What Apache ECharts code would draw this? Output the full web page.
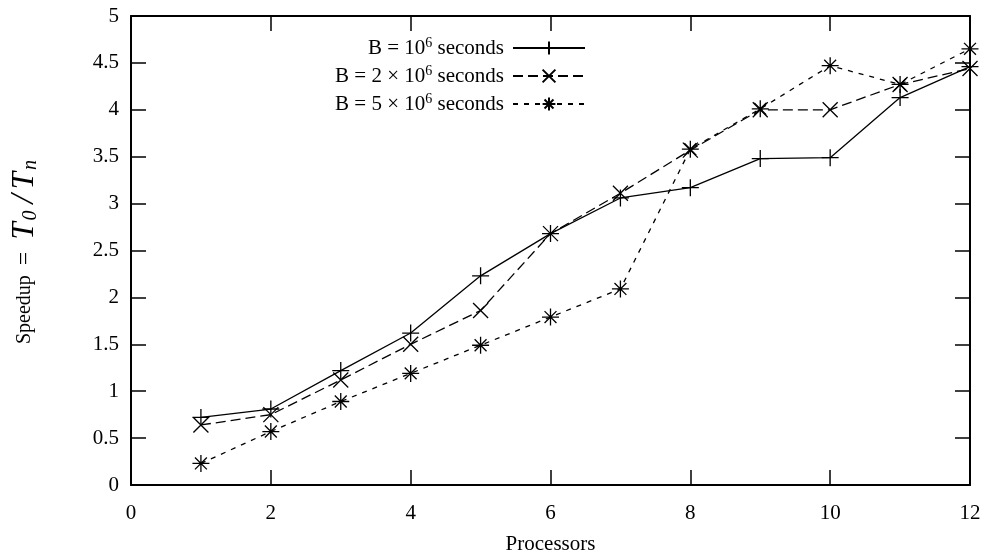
<!DOCTYPE html>
<html>
<head>
<meta charset="utf-8">
<script src="https://cdn.jsdelivr.net/npm/echarts@6/dist/echarts.min.js"></script>
<style>html,body{margin:0;padding:0;background:#fff}#c{width:986px;height:554px}</style>
</head>
<body>
<div id="c"></div>
<script>
const processors = [1, 2, 3, 4, 5, 6, 7, 8, 9, 10, 11, 12];
const speedupB1 = [0.72, 0.81, 1.22, 1.62, 2.23, 2.68, 3.06, 3.17, 3.48, 3.49, 4.13, 4.46];
const speedupB2 = [0.64, 0.75, 1.12, 1.50, 1.86, 2.68, 3.11, 3.57, 4.00, 4.00, 4.27, 4.44];
const speedupB5 = [0.23, 0.57, 0.89, 1.19, 1.49, 1.79, 2.09, 3.58, 4.01, 4.47, 4.27, 4.65];
const seriesNames = ['B1', 'B2', 'B5'];
const legendLabels = [
  '{t|B = 10}{sup|6}{t| seconds}',
  '{t|B = 2 × 10}{sup|6}{t| seconds}',
  '{t|B = 5 × 10}{sup|6}{t| seconds}'
];
const xTicks = { min: 0, max: 12, interval: 2 };
const yTicks = { min: 0, max: 5, interval: 0.5 };

const FONT = '"Liberation Serif", "DejaVu Serif", serif';
const plusPath = 'path://M0,5L10,5M5,0L5,10';
const crossPath = 'path://M0,0L10,10M10,0L0,10';
const starPath = 'path://M0,5L10,5M5,0L5,10M1.5,1.5L8.5,8.5M8.5,1.5L1.5,8.5';

const richLegend = {
  t: { fontFamily: FONT, fontSize: 21, color: '#000' },
  sup: { fontFamily: FONT, fontSize: 14, color: '#000', verticalAlign: 'top', padding: [0, 0, 10, 0] }
};

function mkLegend(i, top) {
  return {
    data: [seriesNames[i]],
    right: 400,
    top: top,
    align: 'right',
    itemWidth: 72,
    itemHeight: 16,
    itemGap: 0,
    padding: 0,
    selectedMode: false,
    formatter: function () { return legendLabels[i]; },
    textStyle: { rich: richLegend, fontFamily: FONT, fontSize: 21, color: '#000', padding: [0, 4, 0, 0] }
  };
}

const chart = echarts.init(document.getElementById('c'), null, { renderer: 'canvas' });
const axisLabelStyle = { fontFamily: FONT, fontSize: 21, color: '#000' };
const tickStyle = { show: true, inside: true, length: 15, lineStyle: { color: '#000', width: 1.5 } };
const lineStyleAxis = { show: true, onZero: false, lineStyle: { color: '#000', width: 2 } };

chart.setOption({
  animation: false,
  backgroundColor: '#fff',
  grid: { left: 131, right: 16, top: 16, bottom: 69, show: false, containLabel: false, outerBoundsMode: 'none' },
  legend: [mkLegend(0, 36), mkLegend(1, 64), mkLegend(2, 92)],
  xAxis: [
    {
      type: 'value', min: xTicks.min, max: xTicks.max, interval: xTicks.interval,
      name: 'Processors', nameLocation: 'middle', nameGap: 49,
      nameTextStyle: { fontFamily: FONT, fontSize: 21, color: '#000' },
      axisLine: lineStyleAxis,
      axisTick: tickStyle,
      axisLabel: Object.assign({ margin: 18 }, axisLabelStyle),
      splitLine: { show: false }
    },
    {
      type: 'value', position: 'top', min: xTicks.min, max: xTicks.max, interval: xTicks.interval,
      axisLine: lineStyleAxis,
      axisTick: tickStyle, axisLabel: { show: false }, splitLine: { show: false }
    }
  ],
  yAxis: [
    {
      type: 'value', min: yTicks.min, max: yTicks.max, interval: yTicks.interval,
      name: '{n|Speedup}{e|=}{i|T}{s|0}{sl|/}{i|T}{s|n}', nameLocation: 'middle', nameGap: 90,
      nameTextStyle: {
        fontFamily: FONT, fontSize: 20, color: '#000',
        rich: {
          n: { fontFamily: FONT, fontSize: 20, color: '#000' },
          e: { fontFamily: FONT, fontSize: 24, color: '#000', padding: [0, 12, 0, 10] },
          i: { fontFamily: FONT, fontSize: 31, fontStyle: 'italic', color: '#000', padding: [0, 1, 0, 0] },
          sl: { fontFamily: FONT, fontSize: 33, fontStyle: 'italic', color: '#000', padding: [0, 5, 0, 4] },
          s: { fontFamily: FONT, fontSize: 20, fontStyle: 'italic', color: '#000', verticalAlign: 'bottom', padding: [12, 3, 0, 1] }
        }
      },
      axisLine: lineStyleAxis,
      axisTick: tickStyle,
      axisLabel: Object.assign({ margin: 12 }, axisLabelStyle),
      splitLine: { show: false }
    },
    {
      type: 'value', position: 'right', min: yTicks.min, max: yTicks.max, interval: yTicks.interval,
      axisLine: lineStyleAxis,
      axisTick: tickStyle, axisLabel: { show: false }, splitLine: { show: false }
    }
  ],
  series: [
    {
      name: seriesNames[0], type: 'line', clip: false,
      data: processors.map((p, k) => [p, speedupB1[k]]),
      symbol: plusPath, symbolSize: 17,
      itemStyle: { color: '#000', borderColor: '#000', borderWidth: 1.3 },
      lineStyle: { color: '#000', width: 1.3, type: 'solid' }
    },
    {
      name: seriesNames[1], type: 'line', clip: false,
      data: processors.map((p, k) => [p, speedupB2[k]]),
      symbol: crossPath, symbolSize: 15,
      itemStyle: { color: '#000', borderColor: '#000', borderWidth: 1.3 },
      lineStyle: { color: '#000', width: 1.3, type: [10, 5] }
    },
    {
      name: seriesNames[2], type: 'line', clip: false,
      data: processors.map((p, k) => [p, speedupB5[k]]),
      symbol: starPath, symbolSize: 17,
      itemStyle: { color: '#000', borderColor: '#000', borderWidth: 1.3 },
      lineStyle: { color: '#000', width: 1.3, type: [5, 6] }
    }
  ]
});
</script>
</body>
</html>
